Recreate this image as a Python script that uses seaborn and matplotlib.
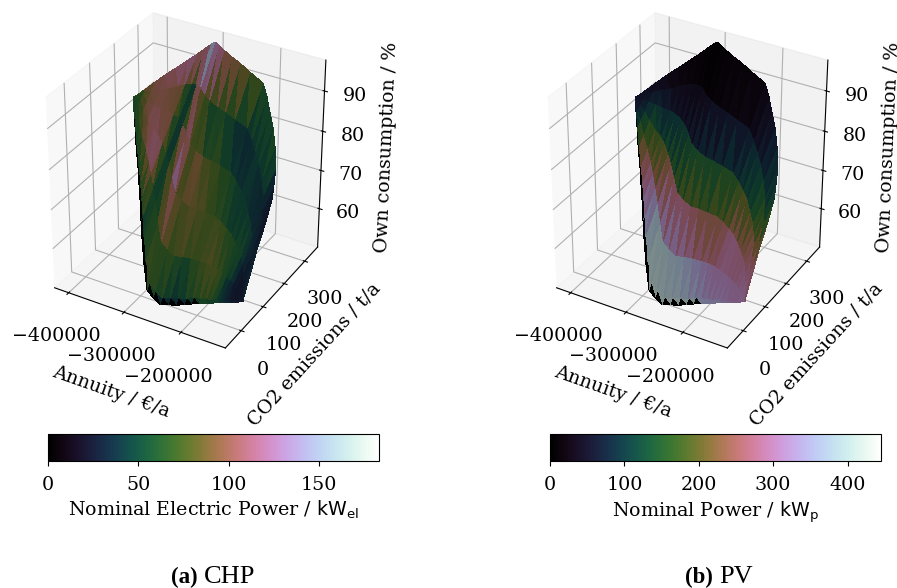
import numpy as np
import seaborn as sns
import matplotlib.pyplot as plt
from matplotlib.cm import ScalarMappable
from matplotlib.colors import Normalize, ListedColormap
from matplotlib.tri import Triangulation

# Points of the Pareto surface, one row per strand across the surface
annuity_k = [
    [-375.6, -375.6, -375.3, -375.1, -374.8, -374.6, -374.3],
    [-368.8, -368.6, -367.9, -366.9, -366.0, -365.1, -364.2],
    [-361.9, -361.7, -360.4, -358.8, -357.2, -355.7, -354.1],
    [-353.2, -352.9, -351.2, -349.2, -347.1, -345.1, -343.1],
    [-343.2, -342.9, -340.9, -338.6, -336.3, -334.0, -331.7],
    [-335.3, -334.8, -332.1, -328.9, -325.7, -322.5, -319.4],
    [-328.4, -327.9, -324.9, -321.4, -318.0, -314.5, -311.0],
    [-319.6, -319.1, -316.3, -313.0, -309.7, -306.4, -303.1],
    [-310.9, -310.5, -308.1, -305.3, -302.5, -299.7, -296.9],
    [-299.0, -298.8, -297.5, -296.0, -294.6, -293.1, -291.7],
    [-285.8, -285.7, -285.7, -285.6, -285.6, -285.5, -285.4],
    [-275.1, -275.1, -275.5, -275.9, -276.3, -276.8, -277.2],
    [-263.4, -263.5, -263.6, -263.8, -264.0, -264.2, -264.4],
    [-253.2, -253.1, -252.9, -252.7, -252.4, -252.2, -251.9],
    [-242.9, -242.7, -241.5, -240.0, -238.6, -237.2, -235.7],
    [-232.6, -232.1, -229.1, -225.5, -222.0, -218.5, -215.0],
    [-224.0, -223.4, -220.1, -216.2, -212.3, -208.4, -204.6],
    [-215.0, -214.4, -211.0, -207.0, -203.0, -199.0, -195.1],
    [-207.3, -206.6, -202.9, -198.6, -194.2, -189.9, -185.5],
    [-200.8, -200.1, -195.7, -190.6, -185.6, -180.5, -175.4],
    [-194.8, -193.9, -189.1, -183.5, -177.8, -172.2, -166.5],
    [-188.3, -187.5, -183.1, -177.9, -172.7, -167.5, -162.3],
    [-181.9, -181.2, -177.3, -172.8, -168.2, -163.7, -159.2],
    [-175.4, -174.9, -172.1, -168.7, -165.4, -162.0, -158.7],
    [-168.1, -167.8, -166.4, -164.7, -162.9, -161.2, -159.5],
    [-157.8, -157.8, -157.9, -158.1, -158.2, -158.4, -158.5],
]
co2 = [
    [158, 158, 158, 158, 158, 159, 159],
    [145, 146, 151, 158, 164, 171, 177],
    [132, 134, 145, 158, 170, 183, 196],
    [115, 118, 135, 155, 176, 196, 216],
    [98, 103, 126, 153, 181, 208, 236],
    [83, 88, 118, 153, 188, 223, 258],
    [70, 76, 110, 151, 191, 231, 272],
    [52, 60, 99, 146, 193, 240, 287],
    [35, 43, 88, 140, 193, 245, 298],
    [14, 23, 73, 131, 190, 248, 306],
    [-6, 3, 57, 120, 183, 246, 308],
    [-6, 3, 57, 120, 184, 247, 310],
    [-5, 5, 59, 123, 186, 250, 313],
    [5, 14, 67, 130, 192, 255, 317],
    [14, 24, 76, 137, 198, 259, 320],
    [24, 33, 84, 145, 205, 266, 326],
    [33, 42, 90, 147, 204, 261, 318],
    [42, 50, 95, 148, 201, 254, 307],
    [49, 56, 98, 148, 198, 247, 297],
    [55, 61, 100, 145, 190, 236, 281],
    [62, 68, 102, 142, 183, 223, 263],
    [68, 73, 103, 138, 174, 209, 244],
    [74, 78, 104, 135, 166, 197, 228],
    [80, 83, 103, 126, 149, 173, 196],
    [88, 90, 103, 118, 133, 148, 163],
    [97, 97, 98, 98, 98, 99, 99],
]
own = [
    [88.4, 88.4, 88.4, 88.4, 88.4, 88.4, 88.4],
    [85.6, 85.7, 86.4, 87.2, 88.0, 88.8, 89.6],
    [82.8, 83.1, 84.4, 86.0, 87.7, 89.3, 90.9],
    [79.1, 79.5, 81.7, 84.4, 87.0, 89.6, 92.3],
    [75.4, 75.9, 79.0, 82.6, 86.3, 89.9, 93.5],
    [72.0, 72.7, 76.6, 81.2, 85.8, 90.3, 94.9],
    [69.2, 70.0, 74.5, 79.9, 85.2, 90.5, 95.8],
    [65.5, 66.4, 71.8, 78.1, 84.3, 90.6, 96.8],
    [61.8, 62.8, 68.9, 76.1, 83.3, 90.4, 97.5],
    [57.1, 58.3, 65.3, 73.5, 81.7, 89.9, 98.1],
    [52.4, 53.7, 61.4, 70.5, 79.5, 88.5, 97.5],
    [50.8, 52.2, 60.0, 69.2, 78.3, 87.4, 96.5],
    [49.5, 50.8, 58.6, 67.8, 77.0, 86.1, 95.2],
    [49.4, 50.7, 58.4, 67.3, 76.2, 85.1, 94.0],
    [49.3, 50.6, 58.0, 66.6, 75.2, 83.7, 92.3],
    [49.3, 50.5, 57.5, 65.7, 73.9, 82.0, 90.2],
    [49.4, 50.6, 57.1, 64.7, 72.3, 79.9, 87.6],
    [49.4, 50.4, 56.4, 63.5, 70.6, 77.7, 84.7],
    [49.3, 50.3, 55.8, 62.4, 68.9, 75.4, 81.9],
    [49.3, 50.1, 55.1, 60.9, 66.6, 72.4, 78.2],
    [49.4, 50.2, 54.4, 59.4, 64.4, 69.4, 74.4],
    [49.4, 50.0, 53.7, 58.1, 62.4, 66.8, 71.1],
    [49.3, 49.9, 53.1, 56.9, 60.7, 64.5, 68.3],
    [49.3, 49.7, 52.2, 55.1, 57.9, 60.8, 63.7],
    [49.4, 49.7, 51.4, 53.3, 55.2, 57.1, 59.0],
    [49.4, 49.4, 49.5, 49.5, 49.6, 49.7, 49.8],
]
# Nominal electric power of the CHP unit, kW_el
chp_power = [
    [60, 60, 60, 60, 60, 60, 60],
    [0, 60, 62, 65, 70, 75, 80],
    [0, 60, 70, 85, 92, 95, 98],
    [0, 58, 80, 100, 100, 100, 105],
    [0, 55, 95, 115, 100, 100, 115],
    [0, 55, 112, 105, 92, 95, 125],
    [0, 45, 115, 105, 95, 90, 130],
    [0, 50, 55, 50, 50, 55, 130],
    [0, 60, 60, 50, 45, 50, 150],
    [0, 70, 65, 130, 125, 135, 165],
    [0, 85, 60, 115, 70, 50, 150],
    [0, 60, 85, 60, 110, 60, 130],
    [0, 40, 80, 100, 65, 50, 115],
    [0, 45, 60, 95, 80, 55, 110],
    [0, 40, 70, 75, 70, 40, 105],
    [0, 50, 80, 72, 55, 35, 80],
    [0, 55, 85, 75, 50, 35, 65],
    [0, 60, 90, 60, 45, 45, 60],
    [60, 60, 85, 55, 50, 45, 65],
    [55, 55, 80, 60, 40, 40, 75],
    [55, 55, 50, 70, 40, 35, 50],
    [45, 45, 40, 60, 45, 30, 30],
    [40, 40, 30, 35, 45, 28, 25],
    [30, 30, 25, 28, 35, 28, 30],
    [28, 28, 25, 25, 30, 35, 45],
    [30, 30, 30, 30, 30, 30, 30],
]
# Nominal PV power, kW_p
pv_power = [
    [60, 60, 60, 60, 60, 58, 55],
    [0, 90, 80, 70, 60, 55, 50],
    [0, 150, 130, 100, 75, 55, 40],
    [0, 220, 180, 140, 100, 60, 30],
    [0, 270, 210, 150, 85, 40, 20],
    [0, 300, 240, 140, 70, 30, 15],
    [0, 330, 260, 165, 75, 25, 12],
    [0, 380, 265, 175, 70, 20, 8],
    [0, 405, 330, 190, 75, 15, 5],
    [0, 415, 375, 190, 85, 12, 3],
    [0, 415, 385, 225, 95, 15, 3],
    [0, 410, 370, 225, 110, 20, 5],
    [0, 405, 360, 220, 120, 25, 8],
    [0, 405, 350, 210, 110, 30, 8],
    [0, 405, 315, 205, 125, 35, 10],
    [0, 400, 300, 220, 125, 42, 15],
    [0, 385, 295, 215, 130, 55, 25],
    [0, 360, 290, 260, 150, 80, 30],
    [350, 350, 290, 295, 145, 95, 40],
    [345, 345, 295, 280, 150, 115, 60],
    [340, 340, 300, 270, 175, 130, 85],
    [330, 330, 300, 265, 220, 135, 95],
    [320, 320, 300, 275, 230, 165, 120],
    [310, 310, 305, 285, 260, 225, 180],
    [305, 305, 310, 290, 275, 250, 225],
    [320, 320, 320, 320, 320, 320, 320],
]

plt.rcParams['font.family'] = ['DejaVu Serif']
plt.rcParams['font.size'] = 13.7

cmap = sns.color_palette("cubehelix", as_cmap=True)
# surface is drawn darker than the colorbar
muted = ListedColormap(cmap(np.linspace(0, 1, 256))[:, :3] * 0.58)

x = np.array(annuity_k).ravel() * 1000
y = np.array(co2).ravel()
z = np.array(own).ravel()
ncol, nrow = np.shape(own)
tris = []
rim = []
for i in range(ncol - 1):
    for j in range(nrow - 1):
        a = i * nrow + j
        tris += [[a, a + nrow, a + 1], [a + 1, a + nrow, a + nrow + 1]]
        rim += [j == 0, j == 0]
tris = np.array(tris)
rim = np.array(rim)


def panel(power, vmax, offset, label, letter, name, letter_x):
    ax = fig.add_axes([(5.81 + offset) / 897, 229.99 / 588, 355 / 897, 355 / 588], projection='3d')
    ax.view_init(elev=32.66, azim=-59.95)
    ax.set_box_aspect((4, 4, 4.512), zoom=0.982)
    surf = ax.plot_trisurf(Triangulation(x, y, tris), z, cmap=muted, linewidth=0, antialiased=False)
    corners = np.array(power).ravel()[tris]
    # median on the rim keeps the black teeth crisp
    surf.set_array(np.where(rim, np.median(corners, axis=1), corners.mean(axis=1)))
    surf.set_clim(0, vmax)
    ax.set_xlim(-426000, -124000)
    ax.set_ylim(-70, 365)
    ax.set_zlim(49.7, 97.5)
    ax.set_xticks([-400000, -300000, -200000])
    ax.set_yticks([0, 100, 200, 300])
    ax.set_zticks([60, 70, 80, 90])
    ax.tick_params(axis='x', pad=8.5)
    ax.tick_params(axis='y', pad=8.5)
    ax.tick_params(axis='z', pad=7)
    ax.set_xlabel('Annuity / €/a', labelpad=14)
    ax.set_ylabel('CO2 emissions / t/a', labelpad=12)
    ax.set_zlabel('Own consumption / %', labelpad=12)
    cax = fig.add_axes([(48 + offset) / 897, 127 / 588, 331 / 897, 27 / 588])
    cb = fig.colorbar(ScalarMappable(Normalize(0, vmax), cmap), cax=cax, orientation='horizontal', label=label)
    cb.ax.tick_params(pad=7)
    fig.text(letter_x / 897, 5 / 588, letter, ha='right', va='baseline', family='Liberation Serif', weight='bold', fontsize=16.5)
    fig.text((letter_x + 6) / 897, 5 / 588, name, ha='left', va='baseline', family='Liberation Serif', fontsize=19)


fig = plt.figure(figsize=(8.97, 5.88), dpi=100)
panel(chp_power, 183, 0, r'Nominal Electric Power / $\mathrm{kW_{el}}$', '(a)', 'CHP', 198)
panel(pv_power, 445, 502, r'Nominal Power / $\mathrm{kW_p}$', '(b)', 'PV', 713)
fig.savefig('out.png', dpi=100)
